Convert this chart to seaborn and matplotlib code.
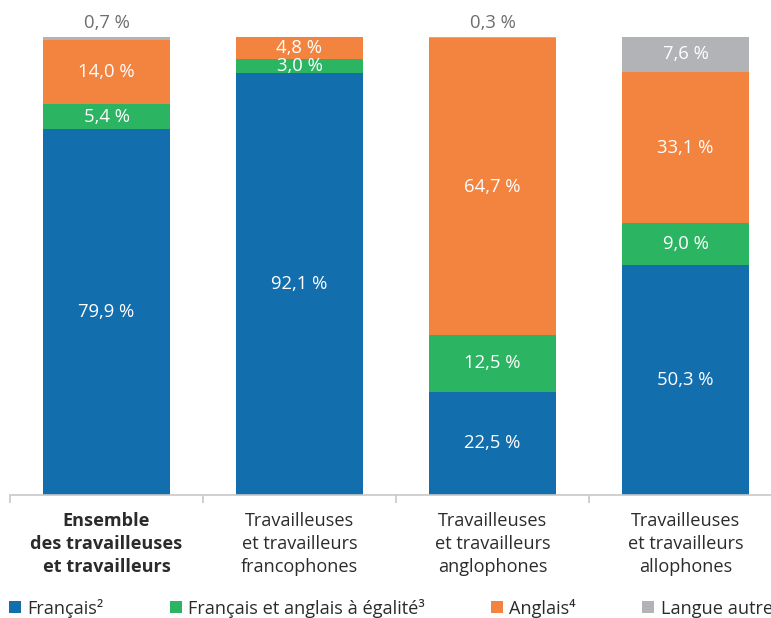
import matplotlib
matplotlib.use("Agg")
import matplotlib.pyplot as plt
from matplotlib.patches import Patch
import numpy as np
import seaborn as sns

# Groupes de travailleurs (axe des x)
groupes = [
    "Ensemble\ndes travailleuses\net travailleurs",
    "Travailleuses\net travailleurs\nfrancophones",
    "Travailleuses\net travailleurs\nanglophones",
    "Travailleuses\net travailleurs\nallophones",
]

# Langue utilisée (%)
series = ["Français²", "Français et anglais à égalité³", "Anglais⁴", "Langue autre"]
francais = [79.9, 92.1, 22.5, 50.3]
egalite = [5.4, 3.0, 12.5, 9.0]
anglais = [14.0, 4.8, 64.7, 33.1]
autre = [0.7, 0.1, 0.3, 7.6]

couleurs = ["#136EAE", "#2BB462", "#F3843F", "#B2B3B7"]

sns.set_theme(style="white")
plt.rcParams["font.family"] = ["Open Sans", "DejaVu Sans"]

fig = plt.figure(figsize=(7.71, 6.18), dpi=100)
W, H = 771, 618
ax = fig.add_axes([10 / W, (H - 495) / H, 772 / W, 458 / H])

valeurs = np.array([francais, egalite, anglais, autre])
cumul = np.cumsum(valeurs, axis=0)

# Barres empilées : on trace les cumuls du haut vers le bas
for j in range(len(series) - 1, -1, -1):
    sns.barplot(x=groupes, y=cumul[j], color=couleurs[j], saturation=1,
                width=0.663, ax=ax, linewidth=0)

def fmt(v):
    return f"{v:.1f}".replace(".", ",") + " %"

for i in range(len(groupes)):
    bas = 0.0
    for j in range(len(series)):
        v = valeurs[j, i]
        if v >= 2:
            ax.text(i, bas + v / 2, fmt(v), ha="center", va="center",
                    color="white", fontsize=13.3)
        elif v >= 0.2:
            ax.text(i, 103.0, fmt(v), ha="center", va="center",
                    color="#6D6E71", fontsize=13.3, clip_on=False)
        bas += v

ax.set_ylim(0, 100)
ax.set_xlim(-0.5, 3.5)
ax.set_xlabel("")
ax.set_ylabel("")
ax.set_yticks([])
for s in ["left", "top", "right"]:
    ax.spines[s].set_visible(False)
ax.spines["bottom"].set_color("#C8C8C8")
ax.spines["bottom"].set_linewidth(1.2)

ax.set_xticks(range(len(groupes)))
ax.set_xticklabels(groupes, fontsize=13.1, color="#2B2B2B", linespacing=1.38)
ax.get_xticklabels()[0].set_fontweight("bold")
ax.set_xticks(np.arange(-0.5, 4, 1), minor=True)
ax.tick_params(axis="x", which="major", length=0, pad=12)
ax.tick_params(axis="x", which="minor", length=6, width=1.2, color="#C8C8C8",
               bottom=True)

handles = [Patch(facecolor=c, edgecolor="none", label=s)
           for c, s in zip(couleurs, series)]
fig.legend(handles=handles, loc="center left", bbox_to_anchor=(9 / W, 10 / H),
           ncol=4, frameon=False, fontsize=13.1, borderpad=0, borderaxespad=0,
           handlelength=0.65, handleheight=0.65, handletextpad=0.35,
           columnspacing=3.65, labelcolor="#2B2B2B")

fig.savefig("out.png", dpi=100)
